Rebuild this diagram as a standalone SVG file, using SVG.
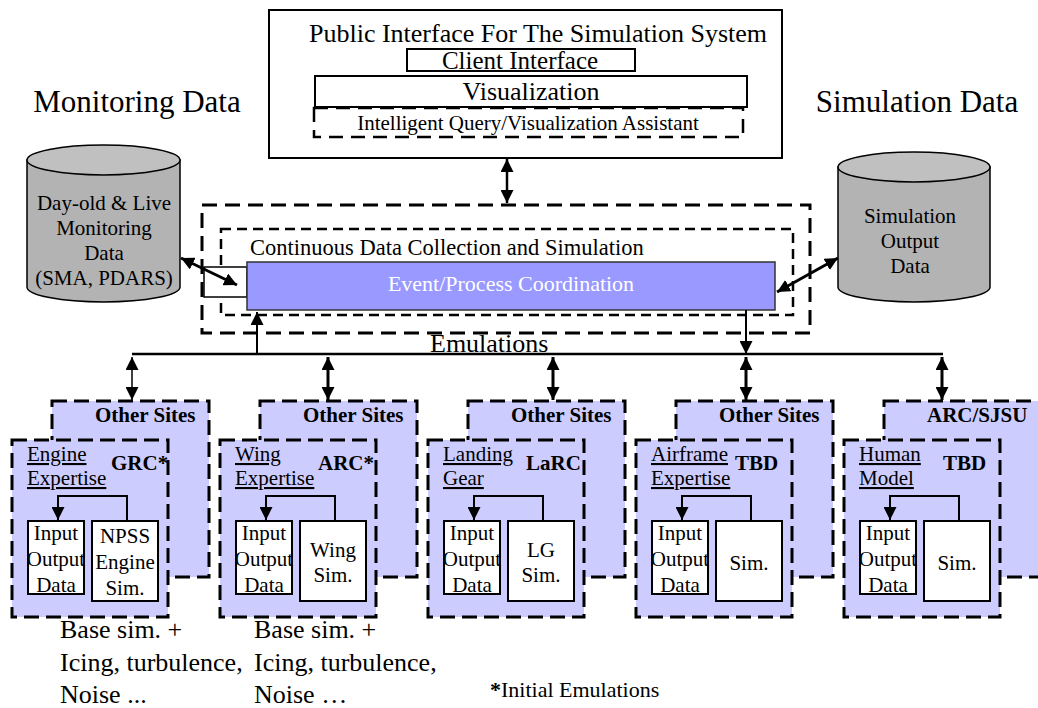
<svg xmlns="http://www.w3.org/2000/svg" width="1038" height="708" viewBox="0 0 1038 708">
<style>
text{font-family:"Liberation Serif","Times New Roman",serif;fill:#000}
.solid{fill:#fff;stroke:#000;stroke-width:2}
.site{fill:#ccccff;stroke:#000;stroke-width:3;stroke-dasharray:15 7}
.box{fill:#fff;stroke:#000;stroke-width:2}
.t21{font-size:21px}
.b21{font-size:21px;font-weight:bold}
.u{text-decoration:underline}
.mid{text-anchor:middle}
.cyl{fill:#b3b3b3;stroke:#000;stroke-width:1.5}
.cyltop{fill:#c0c0c0;stroke:#000;stroke-width:1.5}
.ln{fill:none;stroke:#000;stroke-width:2.5}
</style>
<defs>
<marker id="ah" viewBox="0 0 10 10" refX="10" refY="5" markerUnits="userSpaceOnUse" markerWidth="13" markerHeight="13" orient="auto-start-reverse">
<path d="M0,0 L10,5 L0,10 z" fill="#000"/>
</marker>
</defs>

<g id="public-interface">
<rect x="269" y="10" width="513" height="148" class="solid"/>
<text x="538" y="42" class="mid" font-size="26">Public Interface For The Simulation System</text>
</g>
<g id="client-interface">
<rect x="407" y="49" width="228" height="22" class="solid"/>
<text x="520" y="69" class="mid" font-size="25">Client Interface</text>
</g>
<g id="visualization">
<rect x="315" y="76" width="432" height="31" class="solid"/>
<text x="531" y="100" class="mid" font-size="26">Visualization</text>
</g>
<g id="assistant">
<rect x="314" y="108" width="429" height="29" fill="none" stroke="#000" stroke-width="2.5" stroke-dasharray="14 8"/>
<text x="528" y="130" class="mid" font-size="21">Intelligent Query/Visualization Assistant</text>
</g>

<g id="monitoring-label"><text x="137" y="112" class="mid" font-size="31">Monitoring Data</text></g>
<g id="simulation-label"><text x="917" y="112" class="mid" font-size="31">Simulation Data</text></g>

<g id="monitoring-db">
<path class="cyl" d="M27,160 L27,287 A76.5,15 0 0 0 180,287 L180,160 Z"/>
<ellipse class="cyltop" cx="103.5" cy="160" rx="76.5" ry="15"/>
<text x="104" y="210" class="mid t21">Day-old &amp; Live</text>
<text x="104" y="235" class="mid t21">Monitoring</text>
<text x="104" y="260" class="mid t21">Data</text>
<text x="104" y="285" class="mid t21">(SMA, PDARS)</text>
</g>

<g id="simulation-db">
<path class="cyl" d="M838,167 L838,287 A76,15 0 0 0 990,287 L990,167 Z"/>
<ellipse class="cyltop" cx="914" cy="167" rx="76" ry="15"/>
<text x="910" y="223" class="mid t21">Simulation</text>
<text x="910" y="248" class="mid t21">Output</text>
<text x="910" y="273" class="mid t21">Data</text>
</g>

<g id="continuous">
<rect x="202" y="205" width="608" height="128" fill="none" stroke="#000" stroke-width="3" stroke-dasharray="15 8"/>
<rect x="221" y="229" width="572" height="86" fill="none" stroke="#000" stroke-width="2.5" stroke-dasharray="10 6"/>
<text x="250" y="255" font-size="22.5">Continuous Data Collection and Simulation</text>
<rect x="204" y="267" width="43" height="30" fill="#fff" stroke="#000" stroke-width="1.5"/>
</g>

<g id="event-coordination">
<rect x="247" y="262" width="528" height="48" fill="#9999ff" stroke="#333" stroke-width="1.5"/>
<text x="511" y="291" class="mid" font-size="22" style="fill:#fff">Event/Process Coordination</text>
</g>

<g id="connectors">
<line x1="507" y1="159" x2="507" y2="203" class="ln" marker-start="url(#ah)" marker-end="url(#ah)"/>
<line x1="181" y1="258" x2="237" y2="285" stroke="#000" stroke-width="3" marker-start="url(#ah)" marker-end="url(#ah)"/>
<line x1="838" y1="258" x2="777" y2="292" stroke="#000" stroke-width="3" marker-start="url(#ah)" marker-end="url(#ah)"/>
<line x1="132" y1="354" x2="943" y2="354" stroke="#000" stroke-width="2.5"/>
<line x1="257" y1="354" x2="257" y2="312" stroke="#000" stroke-width="2" marker-end="url(#ah)"/>
<line x1="746" y1="310" x2="746" y2="354" stroke="#000" stroke-width="2" marker-end="url(#ah)"/>
<line x1="132" y1="357" x2="132" y2="400" stroke="#000" stroke-width="1.5" marker-start="url(#ah)" marker-end="url(#ah)"/>
<line x1="328" y1="357" x2="328" y2="400" stroke="#000" stroke-width="3" marker-start="url(#ah)" marker-end="url(#ah)"/>
<line x1="553" y1="357" x2="553" y2="400" stroke="#000" stroke-width="3" marker-start="url(#ah)" marker-end="url(#ah)"/>
<line x1="746" y1="357" x2="746" y2="400" stroke="#000" stroke-width="3" marker-start="url(#ah)" marker-end="url(#ah)"/>
<line x1="942" y1="357" x2="942" y2="400" stroke="#000" stroke-width="3" marker-start="url(#ah)" marker-end="url(#ah)"/>
</g>
<g id="emulations-label"><text x="430" y="352" font-size="26">Emulations</text></g>

<g id="site-grc">
<rect x="52" y="401" width="157" height="176" class="site"/>
<rect x="12" y="440" width="156" height="177" class="site"/>
<text x="95" y="422" class="b21">Other Sites</text>
<text x="27" y="461" class="t21 u">Engine</text>
<text x="27" y="485" class="t21 u">Expertise</text>
<text x="111" y="470" class="b21">GRC*</text>
<path d="M127,521 V496 H58 V520" fill="none" stroke="#000" stroke-width="2" marker-end="url(#ah)"/>
<rect x="28" y="521" width="56" height="73" class="box"/>
<rect x="92" y="521" width="66" height="80" class="box"/>
<text x="56" y="540" class="mid t21">Input</text>
<text x="56" y="566" class="mid t21">Output</text>
<text x="56" y="592" class="mid t21">Data</text>
<text x="125" y="543" class="mid t21">NPSS</text>
<text x="125" y="569" class="mid t21">Engine</text>
<text x="125" y="595" class="mid t21">Sim.</text>
</g>

<g id="site-arc">
<rect x="260" y="401" width="157" height="176" class="site"/>
<rect x="220" y="440" width="156" height="177" class="site"/>
<text x="303" y="422" class="b21">Other Sites</text>
<text x="235" y="461" class="t21 u">Wing</text>
<text x="235" y="485" class="t21 u">Expertise</text>
<text x="318" y="470" class="b21">ARC*</text>
<path d="M335,521 V496 H266 V520" fill="none" stroke="#000" stroke-width="2" marker-end="url(#ah)"/>
<rect x="236" y="521" width="56" height="73" class="box"/>
<rect x="300" y="521" width="66" height="80" class="box"/>
<text x="264" y="540" class="mid t21">Input</text>
<text x="264" y="566" class="mid t21">Output</text>
<text x="264" y="592" class="mid t21">Data</text>
<text x="333" y="557" class="mid t21">Wing</text>
<text x="333" y="582" class="mid t21">Sim.</text>
</g>

<g id="site-larc">
<rect x="468" y="401" width="157" height="176" class="site"/>
<rect x="428" y="440" width="156" height="177" class="site"/>
<text x="511" y="422" class="b21">Other Sites</text>
<text x="443" y="461" class="t21 u">Landing</text>
<text x="443" y="485" class="t21 u">Gear</text>
<text x="526" y="470" class="b21">LaRC</text>
<path d="M543,521 V496 H474 V520" fill="none" stroke="#000" stroke-width="2" marker-end="url(#ah)"/>
<rect x="444" y="521" width="56" height="73" class="box"/>
<rect x="508" y="521" width="66" height="80" class="box"/>
<text x="472" y="540" class="mid t21">Input</text>
<text x="472" y="566" class="mid t21">Output</text>
<text x="472" y="592" class="mid t21">Data</text>
<text x="541" y="557" class="mid t21">LG</text>
<text x="541" y="582" class="mid t21">Sim.</text>
</g>

<g id="site-airframe">
<rect x="676" y="401" width="157" height="176" class="site"/>
<rect x="636" y="440" width="156" height="177" class="site"/>
<text x="719" y="422" class="b21">Other Sites</text>
<text x="651" y="461" class="t21 u">Airframe</text>
<text x="651" y="485" class="t21 u">Expertise</text>
<text x="735" y="470" class="b21">TBD</text>
<path d="M751,521 V496 H682 V520" fill="none" stroke="#000" stroke-width="2" marker-end="url(#ah)"/>
<rect x="652" y="521" width="56" height="73" class="box"/>
<rect x="716" y="521" width="66" height="80" class="box"/>
<text x="680" y="540" class="mid t21">Input</text>
<text x="680" y="566" class="mid t21">Output</text>
<text x="680" y="592" class="mid t21">Data</text>
<text x="749" y="570" class="mid t21">Sim.</text>
</g>

<g id="site-human">
<rect x="884" y="401" width="157" height="176" class="site"/>
<rect x="844" y="440" width="156" height="177" class="site"/>
<text x="927" y="422" class="b21">ARC/SJSU</text>
<text x="859" y="461" class="t21 u">Human</text>
<text x="859" y="485" class="t21 u">Model</text>
<text x="943" y="470" class="b21">TBD</text>
<path d="M959,521 V496 H890 V520" fill="none" stroke="#000" stroke-width="2" marker-end="url(#ah)"/>
<rect x="860" y="521" width="56" height="73" class="box"/>
<rect x="924" y="521" width="66" height="80" class="box"/>
<text x="888" y="540" class="mid t21">Input</text>
<text x="888" y="566" class="mid t21">Output</text>
<text x="888" y="592" class="mid t21">Data</text>
<text x="957" y="570" class="mid t21">Sim.</text>
</g>

<g id="notes">
<text x="60" y="638" font-size="26">Base sim. +</text>
<text x="60" y="671" font-size="26">Icing, turbulence,</text>
<text x="60" y="703" font-size="26">Noise ...</text>
<text x="254" y="638" font-size="26">Base sim. +</text>
<text x="254" y="671" font-size="26">Icing, turbulence,</text>
<text x="254" y="703" font-size="26">Noise …</text>
<text x="490" y="697" font-size="22"><tspan font-weight="bold">*</tspan>Initial Emulations</text>
</g>
</svg>
